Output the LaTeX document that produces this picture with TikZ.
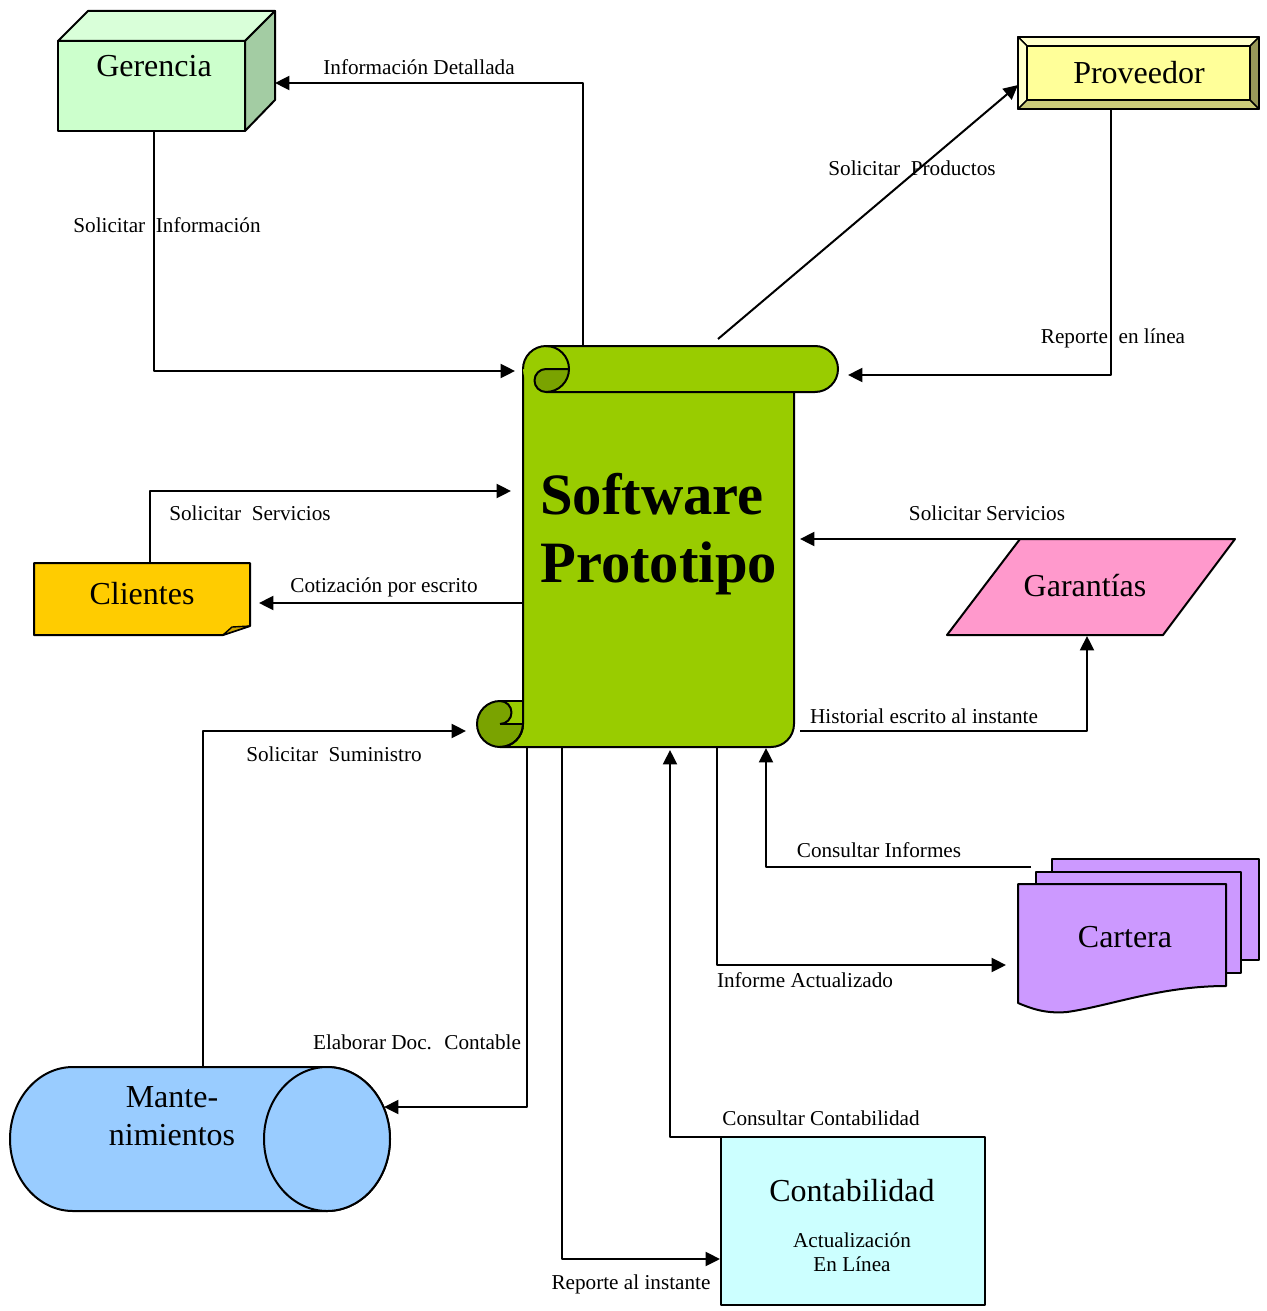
\documentclass[tikz,border=0pt]{standalone}
\usepackage{fontspec}
\setmainfont{Liberation Serif}
\usetikzlibrary{arrows.meta}

\definecolor{scrollgreen}{HTML}{99CC00}
\definecolor{scrolldark}{HTML}{7AA300}
\definecolor{gerfront}{HTML}{CCFFCC}
\definecolor{gertop}{HTML}{D9FFD9}
\definecolor{gerside}{HTML}{A3CCA3}
\definecolor{provfill}{HTML}{FFFF99}
\definecolor{provlight}{HTML}{FFFFCC}
\definecolor{provdark}{HTML}{CCCC7A}
\definecolor{provdarker}{HTML}{999959}
\definecolor{clifill}{HTML}{FFCC00}
\definecolor{clifold}{HTML}{CCA300}
\definecolor{garfill}{HTML}{FF99CC}
\definecolor{carfill}{HTML}{CC99FF}
\definecolor{manfill}{HTML}{99CCFF}
\definecolor{confill}{HTML}{CCFFFF}

\begin{document}
\begin{tikzpicture}[x=0.5pt,y=-0.5pt,line join=round]
\tikzset{
  outline/.style={draw=black,line width=1pt},
  thinline/.style={draw=black,line width=0.7pt},
  flow/.style={draw=black,line width=1pt,-{Triangle[length=7.2pt,width=7pt]}},
  lbl/.style={anchor=base,inner sep=0pt,font=\fontsize{10.6}{12.7}\selectfont},
  big/.style={anchor=base,inner sep=0pt,font=\fontsize{16}{19}\selectfont},
  title/.style={anchor=base west,inner sep=0pt,font=\fontsize{29.3}{34}\selectfont\bfseries},
}
\useasboundingbox (0,0) rectangle (1266,1311);

% ---------- Gerencia (cube) ----------
\filldraw[outline,fill=gerfront] (58,41) rectangle (245,131);
\filldraw[outline,fill=gertop] (58,41) -- (88,11) -- (275,11) -- (245,41) -- cycle;
\filldraw[outline,fill=gerside] (245,41) -- (275,11) -- (275,100) -- (245,131) -- cycle;
\node[big] (gerencia) at (154,76) {Gerencia};

% ---------- Proveedor (bevelled box) ----------
\filldraw[thinline,fill=provlight] (1018,37) -- (1259,37) -- (1250,46) -- (1027,46) -- cycle;
\filldraw[thinline,fill=provlight] (1018,37) -- (1027,46) -- (1027,100) -- (1018,109) -- cycle;
\filldraw[thinline,fill=provdark] (1018,109) -- (1027,100) -- (1250,100) -- (1259,109) -- cycle;
\filldraw[thinline,fill=provdarker] (1259,37) -- (1259,109) -- (1250,100) -- (1250,46) -- cycle;
\filldraw[thinline,fill=provfill] (1027,46) rectangle (1250,100);
\draw[line width=1.3pt] (1018,37) rectangle (1259,109);
\node[big] (proveedor) at (1139,84) {Proveedor};

% ---------- Software Prototipo (scroll) ----------
% body
\fill[scrollgreen] (523,369) -- (523,724) arc[start angle=0,end angle=90,radius=23]
  -- (771,747) arc[start angle=90,end angle=0,radius=23] -- (794,369) -- cycle;
% lower left roll
\fill[scrolldark] (500,724) circle[radius=23];
\fill[scrollgreen] (500,701) -- (523,701) -- (523,724) -- (500,724)
  arc[start angle=90,end angle=-90,radius=11.5] -- cycle;
\draw[outline] (523,369) -- (523,724) arc[start angle=0,end angle=90,radius=23]
  -- (771,747) arc[start angle=90,end angle=0,radius=23] -- (794,392);
\draw[outline] (500,701) arc[start angle=-90,end angle=-360,radius=23];
\draw[outline] (500,701) -- (523,701);
\draw[outline] (500,724) -- (523,724);
\draw[outline] (500,724) arc[start angle=90,end angle=-90,radius=11.5];
% upper roll
\fill[scrollgreen] (546,346) -- (815,346) arc[start angle=-90,end angle=90,radius=23]
  -- (546,392) arc[start angle=90,end angle=270,radius=23] -- cycle;
\draw[outline] (523,369) arc[start angle=180,end angle=270,radius=23]
  -- (815,346) arc[start angle=-90,end angle=90,radius=23] -- (546,392);
\filldraw[outline,fill=scrolldark] (546,369) -- (569,369) arc[start angle=0,end angle=90,radius=23]
  arc[start angle=90,end angle=270,radius=11.5] -- cycle;
\draw[outline] (569,369) arc[start angle=0,end angle=-90,radius=23];
\node[title] (software) at (540,514) {Software};
\node[title] (prototipo) at (540,582) {Prototipo};

% ---------- Clientes (note with folded corner) ----------
\filldraw[outline,fill=clifill] (34,563) -- (250,563) -- (250,626) -- (223,635) -- (34,635) -- cycle;
\filldraw[thinline,fill=clifold] (223,635) -- (232,627) -- (250,626) -- cycle;
\node[big] (clientes) at (142,604) {Clientes};

% ---------- Garantias (parallelogram) ----------
\filldraw[outline,fill=garfill] (1020,539) -- (1235,539) -- (1163,635) -- (947,635) -- cycle;
\node[big] (garantias) at (1085,596) {Garantías};

% ---------- Cartera (stacked documents) ----------
\filldraw[outline,fill=carfill] (1052,859) rectangle (1259,960);
\filldraw[outline,fill=carfill] (1036,872) rectangle (1241,973);
\filldraw[outline,fill=carfill] (1018,884) -- (1226,884) -- (1226,986)
  .. controls (1160,986) and (1110,1006) .. (1067,1012)
  .. controls (1045,1014) and (1030,1008) .. (1018,1003) -- cycle;
\node[big] (cartera) at (1125,947) {Cartera};

% ---------- Mantenimientos (horizontal cylinder) ----------
\filldraw[outline,fill=manfill] (327,1067) -- (73,1067)
  arc[start angle=-90,end angle=-270,x radius=63,y radius=72] -- (327,1211)
  arc[start angle=90,end angle=-90,x radius=63,y radius=72] -- cycle;
\filldraw[outline,fill=manfill] (327,1139) ellipse[x radius=63,y radius=72];
\node[big] (mante) at (172,1107) {Mante-};
\node[big] (nimientos) at (172,1145) {nimientos};

% ---------- Contabilidad ----------
\filldraw[outline,fill=confill] (721,1137) rectangle (985,1305);
\node[big] (contabilidad) at (852,1201) {Contabilidad};
\node[lbl] (actualizacion) at (852,1247) {Actualización};
\node[lbl] (enlinea) at (852,1271) {En Línea};

% ---------- connection points ----------
\coordinate (scrTopA) at (583,346);
\coordinate (gerR) at (275,83);
\coordinate (gerB) at (154,131);
\coordinate (scrL1) at (515,371);
\coordinate (scrTopB) at (718,339);
\coordinate (provL) at (1018,85);
\coordinate (provB) at (1111,109);
\coordinate (scrR1) at (848,375);
\coordinate (cliT) at (150,563);
\coordinate (scrL2) at (511,491);
\coordinate (scrL3) at (523,603);
\coordinate (cliR) at (259,603);
\coordinate (garT) at (1087,539);
\coordinate (scrR2) at (800,539);
\coordinate (scrR3) at (800,731);
\coordinate (garB) at (1087,636);
\coordinate (manT) at (203,1067);
\coordinate (scrCurl) at (466,731);
\coordinate (carL1) at (1031,867);
\coordinate (scrB1) at (766,748);
\coordinate (scrB2) at (717,747);
\coordinate (carL2) at (1006,965);
\coordinate (scrB3) at (527,747);
\coordinate (manR) at (384,1107);
\coordinate (conTL) at (721,1137);
\coordinate (scrB4) at (670,750);
\coordinate (scrB5) at (562,747);
\coordinate (conL) at (720,1259);

% ---------- connectors ----------
\draw[flow] (scrTopA) |- (gerR);
\draw[flow] (gerB) |- (scrL1);
\draw[flow] (scrTopB) -- (provL);
\draw[flow] (provB) |- (scrR1);
\draw[flow] (cliT) |- (scrL2);
\draw[flow] (scrL3) -- (cliR);
\draw[flow] (garT) -- (scrR2);
\draw[flow] (scrR3) -| (garB);
\draw[flow] (manT) |- (scrCurl);
\draw[flow] (carL1) -| (scrB1);
\draw[flow] (scrB2) |- (carL2);
\draw[flow] (scrB3) |- (manR);
\draw[flow] (conTL) -| (scrB4);
\draw[flow] (scrB5) |- (conL);

% ---------- connector labels ----------
\node[lbl] (lInfoDet) at (419,75) {Información Detallada};
\node[lbl] (lSolInfo) at (167,232) {Solicitar~ Información};
\node[lbl] (lSolProd) at (912,176) {Solicitar~ Productos};
\node[lbl] (lRepLinea) at (1113,343) {Reporte~ en línea};
\node[lbl] (lSolServL) at (250,520) {Solicitar~ Servicios};
\node[lbl] (lCotiz) at (384,592) {Cotización por escrito};
\node[lbl] (lSolServR) at (987,520) {Solicitar Servicios};
\node[lbl] (lHist) at (924,723) {Historial escrito al instante};
\node[lbl] (lSumin) at (334,761) {Solicitar~ Suministro};
\node[lbl] (lConsInf) at (879,857) {Consultar Informes};
\node[lbl] (lInfAct) at (805,987) {Informe Actualizado};
\node[lbl] (lElab) at (417,1049) {Elaborar Doc.~ Contable};
\node[lbl] (lConsCont) at (821,1125) {Consultar Contabilidad};
\node[lbl] (lRepInst) at (631,1289) {Reporte al instante};
\end{tikzpicture}
\end{document}
